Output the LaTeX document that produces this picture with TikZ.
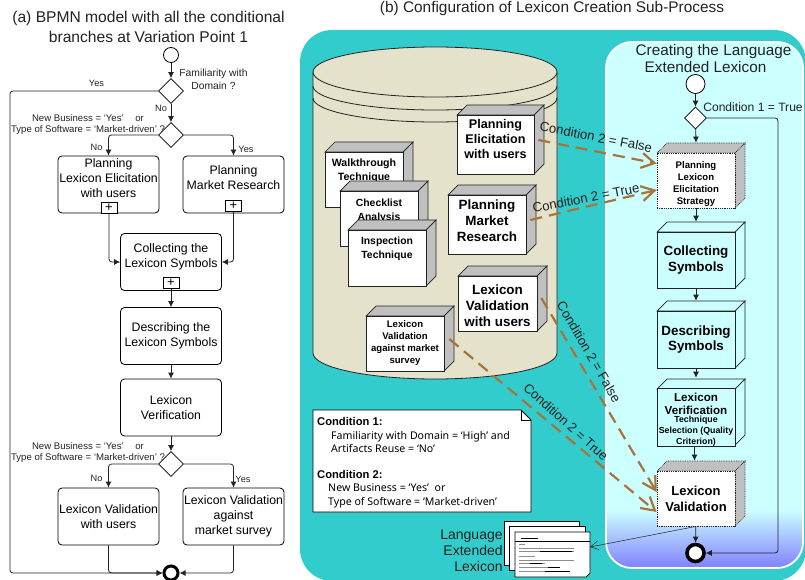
\documentclass[tikz,border=0pt]{standalone}
\usepackage{fontspec}
\setmainfont{Liberation Sans}
\newfontfamily\notefont{Noto Sans}
\usetikzlibrary{shapes.geometric,arrows.meta,calc}
\definecolor{teal1}{HTML}{33CCCC}
\definecolor{cyan1}{HTML}{CCFFFF}
\definecolor{blue1}{HTML}{8080FF}
\definecolor{cyl}{HTML}{E5E2CB}
\definecolor{side}{HTML}{C0C0C0}
\definecolor{brown1}{HTML}{A9733C}
\definecolor{ink}{HTML}{222222}
\newcommand{\fs}[2]{\fontsize{#1}{#2}\selectfont}
% shift text of a centred node up / down
\newcommand{\up}[1]{\\[#1pt]\mbox{}}
\newcommand{\dn}[1]{\mbox{}\\[#1pt]}
\tikzset{
  flow/.style={draw=ink,line width=0.8pt,-{Latex[length=6pt,width=6pt]},rounded corners=3pt},
  task/.style={draw=black,line width=0.8pt,rounded corners=4pt,fill=white,align=center,inner sep=0pt,font=\fs{12.3}{15},minimum width=101pt,minimum height=57pt},
  gate/.style={draw=black,line width=0.7pt,diamond,fill=white,inner sep=0pt,minimum width=25pt,minimum height=25pt},
  plusbox/.style={draw=black,line width=0.7pt,fill=white,inner sep=0pt,minimum width=16pt,minimum height=11pt,font=\fs{13}{13}},
  small/.style={inner sep=0pt,align=center,text=ink,font=\fs{9.6}{11}},
  smallb/.style={inner sep=0pt,align=center,text=ink,font=\fs{9.2}{11}},
  greyside/.style={draw=ink,line width=0.7pt,fill=side},
  greyfront/.style={draw=ink,line width=0.7pt,fill=white},
  cyanside/.style={draw=ink,line width=0.7pt,fill=cyan1},
  cyanfront/.style={draw=ink,line width=0.7pt,fill=cyan1},
  dotside/.style={draw=ink,line width=0.7pt,densely dotted,fill=side},
  dotfront/.style={draw=ink,line width=0.8pt,densely dotted,fill=white},
  cond/.style={draw=brown1,line width=2.2pt,dash pattern=on 12pt off 7pt,-{Straight Barb[length=13pt,width=15pt,line width=2.2pt]}},
  condlabel/.style={inner sep=0pt,text=ink,font=\fs{13.2}{14}},
  page/.style={draw=black,line width=0.7pt,fill=white},
  rule/.style={draw=black!45,line width=0.4pt},
  rulebold/.style={draw=black,line width=0.5pt},
}
\newcommand{\threed}[8]{% name x1 y1 x2 y2 kind font text
  \pgfmathsetmacro{\cxx}{(#2+#4)/2}\pgfmathsetmacro{\cyy}{(#3+#5)/2}
  \pgfmathsetmacro{\ww}{#4-#2}\pgfmathsetmacro{\hh}{#5-#3}
  \path[#6side] (#2,#3) -- ++(10,-10) -- ++(\ww,0) -- (#4,#3) -- cycle;
  \path[#6side] (#4,#3) -- ++(10,-10) -- ++(0,\hh) -- (#4,#5) -- cycle;
  \node[#6front,inner sep=0pt,align=center,text=black,minimum width=\ww pt,minimum height=\hh pt,font=\bfseries#7] (#1) at (\cxx,\cyy) {#8};
}
\begin{document}
\begin{tikzpicture}[x=1pt,y=-1pt]
\useasboundingbox (0,0) rectangle (805,580);
% ---------- (a)
\node[inner sep=0pt,align=center,text=ink,font=\fs{15.6}{20}] (ta) at (148.5,27) {(a) BPMN model with all the conditional\\branches at Variation Point 1};
\node[circle,draw=black,line width=0.8pt,fill=white,minimum size=15pt,inner sep=0pt] (s) at (171,55) {};
\node[gate] (d1) at (171,91) {};
\node[gate] (d2) at (171,135) {};
\node[task] (b1) at (108.5,184.5) {Planning\\Lexicon Elicitation\\with users\up{-2}};
\node[task] (b2) at (233.5,184.5) {Planning\\Market Research\up{-2}};
\node[task] (c1) at (171,262) {Collecting the\\Lexicon Symbols\up{-2}};
\node[task] (c2) at (171,336) {Describing the\\Lexicon Symbols};
\node[task] (c3) at (171,407.5) {Lexicon\\Verification};
\node[gate] (d3) at (171,464) {};
\node[task] (v1) at (108.5,516.5) {Lexicon Validation\\with users};
\node[task] (v2) at (233.5,516.5) {Lexicon Validation\\against\\market survey};
\node[circle,draw=black,line width=3pt,fill=white,minimum size=14pt,inner sep=0pt] (e) at (171,573) {};
\node[plusbox] (p1) at (109,207.5) {+};
\node[plusbox] (p2) at (233.5,205.5) {+};
\node[plusbox] (p3) at (171,283) {+};
\coordinate (cl) at (10,573);
\draw[flow] (s) -- (d1);
\draw[flow] (d1) -- (d2);
\draw[flow] (d1.west) -- (d1.west -| cl) -- (cl) -- (e.west);
\draw[flow] (d2.west) -| (b1.north);
\draw[flow] (d2.east) -| (b2.north);
\draw[flow] (p1.south) |- (c1.west);
\draw[flow] (p2.south) |- (c1.east);
\draw[flow] (p3.south) -- (c2.north);
\draw[flow] (c2) -- (c3);
\draw[flow] (c3) -- (d3);
\draw[flow] (d3.west) -| (v1.north);
\draw[flow] (d3.east) -| (v2.north);
\draw[flow] (v1.south) |- (e.west);
\draw[flow] (v2.south) |- (e.east);
\node[small,font=\fs{10.3}{13}] (l1) at (213.5,79) {Familiarity with\\Domain ?};
\node[smallb] (l2) at (96.5,83) {Yes};
\node[smallb] (l3) at (161,108) {No};
\node[small] (l4) at (88,124.5) {New Business = ‘Yes’\hspace{9pt} or\\Type of Software = ‘Market-driven’ ?};
\node[smallb] (l5) at (96.5,147) {No};
\node[smallb] (l6) at (246,149) {Yes};
\node[small] (l7) at (88,452.5) {New Business = ‘Yes’\hspace{9pt} or\\Type of Software = ‘Market-driven’ ?};
\node[smallb] (l8) at (96.5,478) {No};
\node[smallb] (l9) at (243,479) {Yes};
% ---------- (b)
\node[inner sep=0pt,text=ink,font=\fs{15.4}{16}] (tb) at (552,9) {(b) Configuration of Lexicon Creation Sub-Process};
\fill[teal1,rounded corners=32pt] (300,30) rectangle (806,581);
% cylinder
\draw[line width=0.8pt,draw=ink,fill=cyl] (313,72) -- (313,353) .. controls (313,367.4) and (367.6,379) .. (435,379) .. controls (502.4,379) and (557,367.4) .. (557,353) -- (557,72) -- cycle;
\draw[line width=0.8pt,draw=ink] (313,86) .. controls (313,99.3) and (367.6,110) .. (435,110) .. controls (502.4,110) and (557,99.3) .. (557,86);
\draw[line width=0.8pt,draw=ink] (313,98) .. controls (313,111.3) and (367.6,122) .. (435,122) .. controls (502.4,122) and (557,111.3) .. (557,98);
\draw[line width=0.8pt,draw=ink,fill=cyl] (435,72) ellipse [x radius=122,y radius=25];
% inner panel
\begin{scope}
  \clip[rounded corners=26pt] (606,42) rectangle (803,568);
  \fill[cyan1] (606,42) rectangle (803,511);
  \shade[top color=cyan1,bottom color=blue1] (606,510) rectangle (803,568);
\end{scope}
\draw[white,line width=1.8pt,rounded corners=26pt] (606,42) rectangle (803,568);
\node[inner sep=0pt,align=left,text=ink,font=\fs{15.3}{17}] (tc) at (713.5,59) {Creating the Language\\\hspace{9pt}Extended Lexicon};
% repository boxes
\threed{pe}{457}{115}{534}{174}{grey}{\fs{12.6}{15}}{Planning\\Elicitation\\with users\up{-3}}
\threed{pm}{448}{195}{526}{254}{grey}{\fs{13.4}{16}}{Planning\\Market\\Research\up{-9}}
\threed{wt}{325}{152}{403}{207}{grey}{\fs{10.6}{14}}{Walkthrough\\Technique\up{-5}\up{-4}}
\threed{cl1}{340}{191}{418}{246}{grey}{\fs{10.4}{13.5}}{Checklist\\Analysis\up{-5}\up{-4}}
\threed{it}{348}{230}{426}{286}{grey}{\fs{10.4}{14}}{Inspection\\Technique\up{-5}\up{-3}}
\threed{lv}{458}{276}{537}{331}{grey}{\fs{13.4}{16}}{\dn{-1}Lexicon\\Validation\\with users}
\threed{lm}{366}{316}{444}{371}{grey}{\fs{9.6}{12}}{Lexicon\\Validation\\against market\\survey}
% process
\node[circle,draw=black,line width=0.8pt,fill=white,minimum size=19pt,inner sep=0pt] (rs) at (695.5,84) {};
\node[diamond,draw=black,line width=0.7pt,fill=white,minimum width=22pt,minimum height=22pt,inner sep=0pt] (rd) at (695.5,118) {};
\threed{r1}{657}{153}{735}{208}{dot}{\fs{9.6}{12}}{\dn{3}Planning\\Lexicon\\Elicitation\\Strategy}
\threed{r2}{657}{232}{735}{288}{cyan}{\fs{13.4}{15.5}}{Collecting\\Symbols}
\threed{r3}{657}{311}{735}{368}{cyan}{\fs{13.4}{15.5}}{Describing\\Symbols}
\threed{r4}{657}{389}{735}{445}{cyan}{\fs{11.6}{13}}{\dn{0}Lexicon\\Verification\\[-5pt]\fs{8.8}{11}Technique\\[-2pt]\fs{8.8}{11}Selection (Quality\\[-2pt]\fs{8.8}{11}Criterion)}
\threed{r5}{657}{471}{735}{526}{dot}{\fs{13}{16}}{Lexicon\\Validation}
\node[circle,draw=black,line width=3.6pt,fill=white,minimum size=17pt,inner sep=0pt] (re) at (695.5,553) {};
\coordinate (rc) at (778,118);
\draw[flow] (rs) -- (rd);
\draw[flow] (rd) -- ([yshift=10pt]r1.north);
\draw[flow] (r1) -- ([yshift=10pt]r2.north);
\draw[flow] (r2) -- ([yshift=10pt]r3.north);
\draw[flow] (r3) -- ([yshift=10pt]r4.north);
\draw[flow] ([xshift=-1.5pt]r4.south) -- ([shift={(-1.5pt,10pt)}]r5.north);
\draw[flow] (r5) -- (re);
\draw[flow] (rd.east) -- (rc) -- (rc |- re) -- (re.east);
\node[inner sep=0pt,text=ink,font=\fs{12.1}{13}] (rl) at (753,107) {Condition 1 = True};
% note
\draw[draw=black,line width=0.8pt,fill=white] (313,410) -- (521,410) -- (531,420) -- (531,512) -- (313,512) -- cycle;
\draw[draw=black,line width=0.7pt] (521,410) -- (521,420) -- (531,420);
\node[inner sep=0pt,anchor=north west,align=left,text=black,font=\notefont\fs{10.6}{13.2}] (nt) at (317,417.5) {{\rmfamily\bfseries\fs{11.2}{13.2}Condition 1:}\\\hspace{14pt}Familiarity with Domain = ‘High’ and\\\hspace{14pt}Artifacts Reuse = ‘No’\\[13.2pt]{\rmfamily\bfseries\fs{11.2}{13.2}Condition 2:}\\\hspace{11pt}New Business = ‘Yes’\hspace{3pt} or\\\hspace{11pt}Type of Software = ‘Market-driven’};
% documents
\node[inner sep=0pt,align=right,text=ink,font=\fs{14}{16}] (dl) at (471.5,551) {Language\\Extended\\Lexicon};
\draw[page] (504,521) rectangle (579,565);
\draw[page] (509,526) rectangle (585,570);
\draw[page] (515,532) -- (590,532) -- (590,573) -- (586,577) -- (515,577) -- cycle;
\coordinate (dc) at (590,547);
\draw[rulebold] (515,541) -- (590,541);
\draw[rulebold] (521,538.5) -- (538,538.5);
\foreach \ya/\xa in {544/525,548/574,551/574,556/535,560/574,563/545,567/560,571/570}{
  \draw[rule] (519,\ya) -- (\xa,\ya);
}
\draw[rulebold] (540,551) -- (572,551);
\draw[rulebold] (530,563) -- (542,563);
\draw[rulebold] (548,567) -- (560,567);
\draw[rulebold] (545,571) -- (570,571);
\draw[draw=ink,line width=0.5pt,-{Straight Barb[length=8pt,width=9pt]}] (r5.south) -- (dc);
% conditional links
\draw[cond] ([shift={(4pt,4.5pt)}]pe.east) -- ([yshift=17pt]r1.west);
\draw[cond] ([shift={(4pt,4.5pt)}]pm.east) -- ([yshift=-9.5pt]r1.west);
\draw[cond] ([shift={(4pt,5.5pt)}]lv.east) -- ([yshift=6.5pt]r5.west);
\draw[cond] ([shift={(5pt,4.5pt)}]lm.east) -- ([yshift=-13.5pt]r5.west);
\node[condlabel,rotate=-11] (q1) at (596,137) {Condition 2 = False};
\node[condlabel,rotate=11] (q2) at (586,198) {Condition 2 = True};
\node[condlabel,rotate=-60] (q3) at (589,352) {Condition 2 = False};
\node[condlabel,rotate=-42] (q4) at (566,422) {Condition 2 = True};
\end{tikzpicture}
\end{document}
